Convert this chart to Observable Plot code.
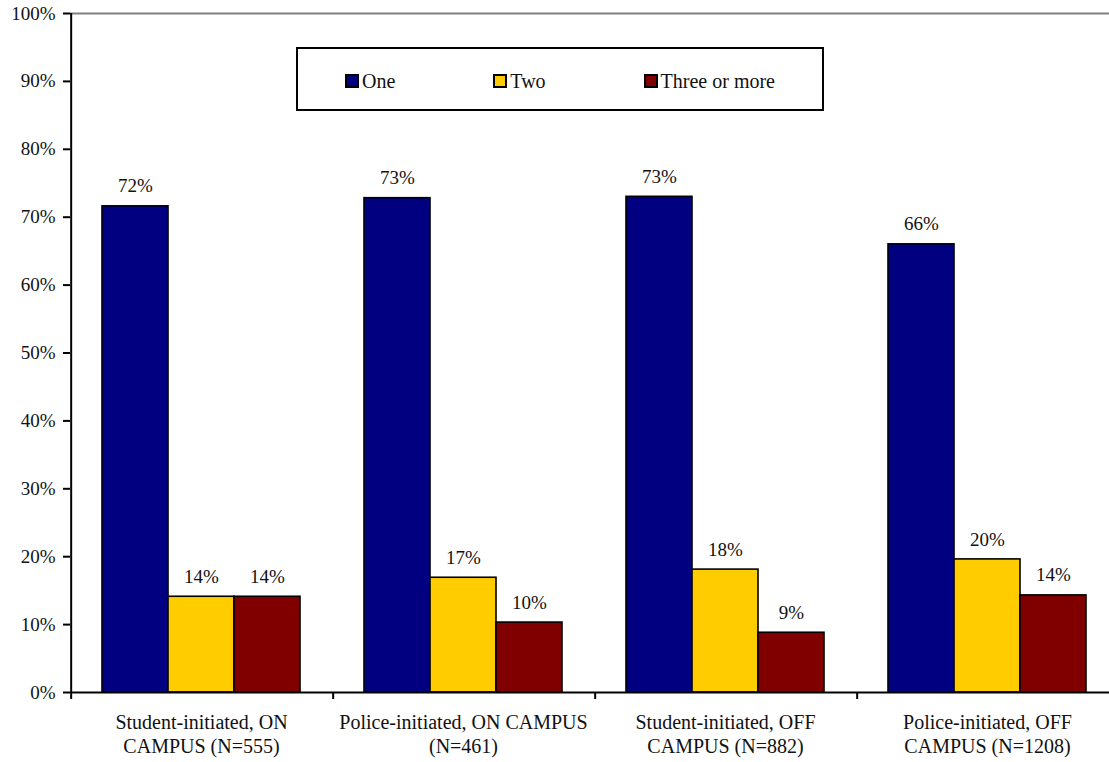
<!DOCTYPE html>
<html>
<head>
<meta charset="utf-8">
<script src="https://cdn.jsdelivr.net/npm/d3@7"></script>
<script src="https://cdn.jsdelivr.net/npm/@observablehq/plot@0.6"></script>
<style>
  html, body { margin: 0; padding: 0; background: #fff; overflow: hidden; }
  #wrap { position: relative; width: 1109px; height: 762px; font-family: "Liberation Serif", "Times New Roman", Tinos, "DejaVu Serif", serif; }
  #legend { position: absolute; left: 296px; top: 47px; width: 477px; height: 56px; border: 2px solid #000; background: #fff;
            display: flex; align-items: center; padding-left: 47px; padding-top: 4px; padding-bottom: 0; box-sizing: content-box; gap: 98px; font-size: 20px; color: #111; }
  #legend .item { display: flex; align-items: center; }
  #legend .sw { width: 10px; height: 10px; border: 2px solid #000; margin-right: 3px; position: relative; top: 0px; }
</style>
</head>
<body>
<div id="wrap"><div id="chart"></div><div id="legend"></div></div>
<script>
const categories = [
  "Student-initiated, ON CAMPUS (N=555)",
  "Police-initiated, ON CAMPUS (N=461)",
  "Student-initiated, OFF CAMPUS (N=882)",
  "Police-initiated, OFF CAMPUS (N=1208)"
];
const tickLabels = [
  "Student-initiated, ON\nCAMPUS (N=555)",
  "Police-initiated, ON CAMPUS\n(N=461)",
  "Student-initiated, OFF\nCAMPUS (N=882)",
  "Police-initiated, OFF\nCAMPUS (N=1208)"
];
const series = ["One", "Two", "Three or more"];
const colors = ["#000080", "#FFCC00", "#800000"];
const one = [71.6, 72.8, 73.0, 66.0];
const two = [14.1, 16.9, 18.1, 19.6];
const threeOrMore = [14.1, 10.3, 8.8, 14.3];
const yTicks = [0, 10, 20, 30, 40, 50, 60, 70, 80, 90, 100];

const values = [one, two, threeOrMore];
const data = [];
categories.forEach((c, i) => series.forEach((s, j) => data.push({cat: c, series: s, value: values[j][i]})));

const W = 1109, H = 762, ml = 70, mr = -9, mt = 13, mb = 70;
const pOuter = 0.465;
const facetW = (W - ml - mr) / categories.length;
const step = facetW / (series.length + 2 * pOuter);
const edgeOffset = (pOuter + 0.5) * step;
const plotH = H - mt - mb;
const font = "Liberation Serif, Times New Roman, Tinos, DejaVu Serif, serif";

const chart = Plot.plot({
  width: W, height: H,
  marginLeft: ml, marginRight: mr, marginTop: mt, marginBottom: mb,
  style: {fontFamily: font, background: "#fff", overflow: "visible"},
  fx: {domain: categories, padding: 0, label: null},
  x: {domain: series, paddingInner: 0, paddingOuter: pOuter, axis: null},
  y: {domain: [0, 100], label: null},
  color: {domain: series, range: colors},
  marks: [
    Plot.ruleY([100], {stroke: "#808080", strokeWidth: 2}),
    Plot.barY(data, {fx: "cat", x: "series", y: "value", fill: "series", stroke: "#000", strokeWidth: 1.6}),
    Plot.text(data, {fx: "cat", x: "series", y: "value", text: d => Math.round(d.value) + "%", dy: -20, fontSize: 19, fill: "#111"}),
    Plot.ruleY([0], {stroke: "#000", strokeWidth: 2}),
    Plot.ruleX(categories, {fx: d => d, x: () => "One", dx: -edgeOffset, insetTop: plotH, insetBottom: -7, stroke: "#000", strokeWidth: 2}),
    Plot.ruleX([categories[0]], {fx: d => d, x: () => "One", dx: -edgeOffset, stroke: "#000", strokeWidth: 2}),
    Plot.axisY({ticks: yTicks, tickFormat: d => d + "%", tickSize: 7, tickPadding: 8, fontSize: 19, stroke: "#000", strokeWidth: 2, fill: "#111", label: null}),
    Plot.axisFx({anchor: "bottom", tickSize: 0, tickPadding: 19, fontSize: 20, lineHeight: 1.2, fill: "#111", label: null,
                 tickFormat: d => tickLabels[categories.indexOf(d)]})
  ]
});
document.getElementById("chart").appendChild(chart);

const legend = document.getElementById("legend");
series.forEach((s, j) => {
  const it = document.createElement("div");
  it.className = "item";
  const sw = document.createElement("span");
  sw.className = "sw";
  sw.style.background = colors[j];
  const t = document.createElement("span");
  t.textContent = s;
  it.appendChild(sw); it.appendChild(t);
  legend.appendChild(it);
});
</script>
</body>
</html>
